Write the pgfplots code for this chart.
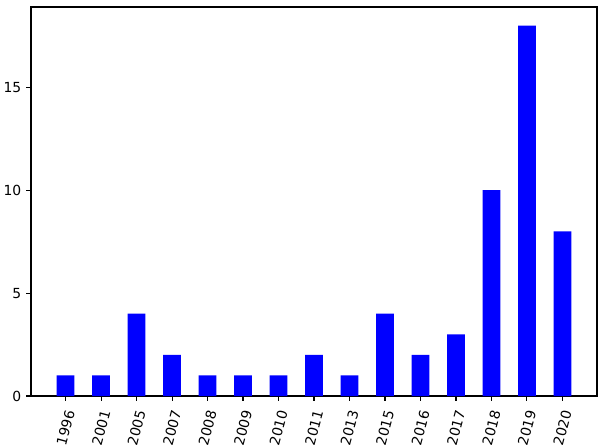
\documentclass[border=0pt]{standalone}
\usepackage{fontspec}
\setmainfont{DejaVu Sans}
\usepackage{pgfplots}
\pgfplotsset{compat=1.18}
\begin{document}
\begin{tikzpicture}
\useasboundingbox (-22.32pt,-36pt) rectangle (411.12pt,285.12pt);
\begin{axis}[
  at={(0,0)}, anchor=south west,
  scale only axis, width=407.52pt, height=280.08pt,
  xmin=-0.975, xmax=14.975, ymin=0, ymax=18.9,
  xtick={0,1,2,3,4,5,6,7,8,9,10,11,12,13,14},
  xticklabels={1996,2001,2005,2007,2008,2009,2010,2011,2013,2015,2016,2017,2018,2019,2020},
  ytick={0,5,10,15},
  tick align=outside, major tick length=3.5pt,
  tick style={black, line width=0.8pt},
  axis line style={line width=0.8pt},
  xtick pos=bottom, ytick pos=left,
  /pgf/number format/assume math mode=true,
  tick label style={font=\fontsize{10}{12}\selectfont},
  xticklabel style={yshift=-19.5pt, rotate=75, anchor=center},
  yticklabel style={anchor=east},
]
\addplot[ybar, bar width=0.5, fill=blue, draw=none] coordinates {
(0,1) (1,1) (2,4) (3,2) (4,1) (5,1) (6,1) (7,2) (8,1) (9,4) (10,2) (11,3) (12,10) (13,18) (14,8)
};
\end{axis}
\end{tikzpicture}
\end{document}
